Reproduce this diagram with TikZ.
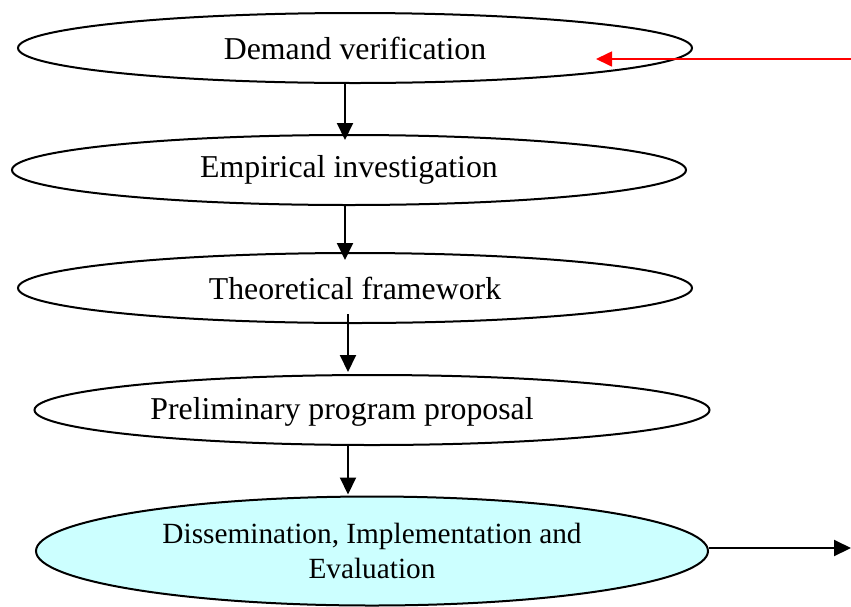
\documentclass[tikz,border=0pt]{standalone}
\usepackage{fontspec}
\setmainfont{Liberation Serif}
\usetikzlibrary{shapes.geometric,arrows.meta}
\definecolor{lightcyan}{RGB}{204,255,255}
\begin{document}
\begin{tikzpicture}[x=1pt,y=-1pt,
  oval/.style={ellipse,draw=black,line width=2pt,inner sep=0pt,
    font=\fontsize{31.8}{36}\selectfont},
  arr/.style={line width=2pt,-{Triangle[length=17pt,width=16pt]}},
  redarr/.style={red,line width=1.7pt,-{Triangle[length=16pt,width=15pt]}}]
\useasboundingbox (0,0) rectangle (851,606);
\node[oval,minimum width=674pt,minimum height=70pt] (e1) at (355,48) {Demand verification};
\node[oval,minimum width=674pt,minimum height=70pt] (e2) at (349,170) {Empirical investigation};
\node[oval,minimum width=674pt,minimum height=70pt] (e3) at (355,288) {Theoretical framework};
\node[oval,minimum width=675pt,minimum height=70pt] (e4) at (372,410) {};
\node[font=\fontsize{31.8}{36}\selectfont,inner sep=0pt] (t4) at (342,412) {Preliminary program proposal};
\node[oval,fill=lightcyan,minimum width=672pt,minimum height=109pt,
  font=\fontsize{29.3}{35}\selectfont,align=center] (e5) at (372,551)
  {Dissemination, Implementation and\\Evaluation};
\coordinate (redtail) at (851,59);
\coordinate (redtip) at (596,59);
\coordinate (outend) at (851,548);
\draw[arr] ([xshift=-10pt]e1.south) -- ([xshift=-4pt,yshift=-6pt]e2.north);
\draw[arr] ([xshift=-4pt]e2.south) -- ([xshift=-10pt,yshift=-8pt]e3.north);
\draw[arr] ([xshift=-7pt,yshift=10pt]e3.south) -- ([xshift=-24pt,yshift=2pt]e4.north);
\draw[arr] ([xshift=-24pt]e4.south) -- ([xshift=-24pt,yshift=1pt]e5.north);
\draw[arr] (e5.east |- outend) -- (outend);
\draw[redarr] (redtail) -- (redtip);
\end{tikzpicture}
\end{document}
